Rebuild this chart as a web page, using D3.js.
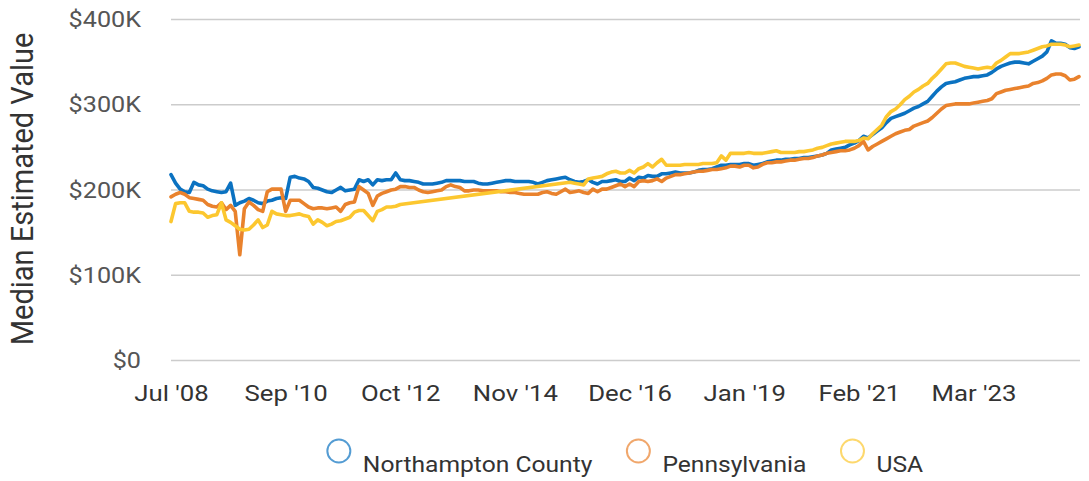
<!DOCTYPE html>
<html><head><meta charset="utf-8">
<script src="https://cdn.jsdelivr.net/npm/d3@7"></script>
<style>
body{margin:0;background:#fff}
svg{display:block}
text{font-family:Roboto,"Noto Sans",sans-serif}
</style>
</head><body>
<svg id="chart" width="1089" height="481"></svg>
<script>
// ---- data ----
const startMonth = "2008-07";
const endMonth = "2025-02";
const skippedMonth = "2010-01";
const tickLabels = ["Jul '08","Sep '10","Oct '12","Nov '14","Dec '16","Jan '19","Feb '21","Mar '23"];
const yTicks = [0, 100, 200, 300, 400]; // thousands of dollars
const seriesNames = ["Northampton County", "Pennsylvania", "USA"];
const seriesColors = ["#0b72c1", "#e9822d", "#fcc72f"];

// values in thousands of dollars
const northampton = [
218,208,201,198,197,209,206,205,201,199,
198,197,198,208,182,185,187,190,188,185,
184,187,188,190,191,190,215,216,214,213,
210,203,202,200,198,197,200,203,199,200,
201,212,210,212,206,212,211,212,212,220,
212,211,211,210,209,207,207,207,208,209,
211,211,211,211,210,210,210,208,207,207,
208,209,210,211,211,210,210,210,210,209,
207,209,211,212,213,214,215,212,210,209,
210,212,209,207,210,210,211,212,210,210,
214,211,215,214,217,216,216,219,219,220,
221,220,220,220,221,223,224,224,225,227,
229,229,230,230,230,231,231,229,230,231,
233,234,235,235,236,236,237,237,238,238,
239,240,241,243,247,248,249,250,253,255,
258,263,261,265,269,273,279,284,286,288,
290,293,296,298,301,304,310,316,321,325,
326,327,329,331,332,333,333,334,335,338,
342,345,347,349,350,350,349,348,351,354,
357,362,375,372,372,371,367,366,368
];
const pennsylvania = [
192,195,197,195,191,190,189,188,183,181,
180,185,177,182,175,124,178,186,182,177,
175,198,201,201,201,175,188,188,188,184,
180,178,179,179,178,179,180,175,183,185,
186,204,200,196,182,193,196,198,200,201,
204,204,203,203,200,198,197,198,199,200,
204,206,204,203,199,199,200,200,199,199,
199,199,198,198,197,197,196,195,195,195,
195,197,198,196,195,198,201,197,198,199,
197,196,201,198,201,201,203,205,207,204,
207,204,210,211,210,211,213,210,214,216,
218,218,219,220,221,222,222,223,224,224,
225,226,228,228,227,229,229,226,227,230,
232,232,233,233,234,235,235,236,237,237,
238,240,241,243,244,245,246,246,247,249,
252,257,247,251,254,257,260,263,266,268,
270,271,275,277,279,281,285,290,295,299,
300,301,301,301,301,302,303,304,305,307,
313,315,317,318,319,320,321,322,325,326,
328,331,335,336,336,334,329,330,333
];
const usa = [
163,184,185,185,175,174,174,173,168,170,
171,185,165,162,158,154,153,154,159,165,
156,159,175,172,171,170,170,171,172,170,
169,160,165,162,158,160,163,164,166,168,
174,176,176,170,164,175,177,180,180,181,
183,null,null,null,null,null,null,null,null,null,
null,null,null,null,null,null,null,null,null,null,
null,null,null,null,null,null,null,null,null,null,
null,null,null,null,null,null,null,209,208,207,
206,213,214,215,216,219,221,222,220,220,
223,220,225,227,231,227,232,236,229,229,
229,229,230,230,230,230,231,231,231,232,
240,235,243,243,243,243,244,243,243,243,
244,245,246,244,244,244,244,245,245,246,
247,249,250,252,254,255,256,257,257,257,
258,261,260,266,271,276,286,292,295,300,
306,310,315,318,322,325,331,336,342,348,
349,349,347,345,344,343,342,343,344,343,
349,352,356,360,360,360,361,362,364,366,
368,369,371,371,371,370,368,369,370
];

// ---- build ----
const parseM = d3.timeParse("%Y-%m");
const keyM = d3.timeFormat("%Y-%m");
const labelM = d3.timeFormat("%b '%y");
const categories = d3.timeMonth
  .range(parseM(startMonth), d3.timeMonth.offset(parseM(endMonth), 1))
  .filter(d => keyM(d) !== skippedMonth)
  .map(labelM);

const seriesValues = [northampton, pennsylvania, usa];
const stretch = 1.12; // reference text is slightly wide

const svg = d3.select("#chart");
const plotLeft = 171, plotRight = 1079, plotTop = 19.5, plotBottom = 360.5;

const x = d3.scalePoint().domain(categories).range([plotLeft, plotRight]);
const y = d3.scaleLinear().domain([0, 400]).range([plotBottom, plotTop]);

// grid
const grid = svg.append("g");
grid.selectAll("line").data(yTicks).join("line")
  .attr("x1", plotLeft).attr("x2", plotRight + 1)
  .attr("y1", d => y(d)).attr("y2", d => y(d))
  .attr("stroke", "#cccccc").attr("stroke-width", 1.5);

// y axis labels
const yAxis = d3.axisLeft(y).tickValues(yTicks).tickSize(0).tickPadding(0)
  .tickFormat(d => d === 0 ? "$0" : "$" + d + "K");
const gy = svg.append("g").attr("transform", `translate(${plotLeft - 30},0)`).call(yAxis);
gy.select(".domain").remove();
gy.selectAll("text").attr("font-size", 22.5).attr("fill", "#555").attr("font-family", "Roboto")
  .attr("transform", `scale(${stretch},1)`);

// x axis labels
const xAxis = d3.axisBottom(x).tickValues(tickLabels).tickSize(0).tickPadding(0);
const gx = svg.append("g").attr("transform", `translate(0,${plotBottom + 24})`).call(xAxis);
gx.select(".domain").remove();
gx.selectAll("text").attr("font-size", 23).attr("fill", "#333").attr("font-family", "Roboto")
  .attr("transform", `scale(${stretch},1)`);

// y title
svg.append("text")
  .attr("transform", `translate(33,${(plotTop + plotBottom) / 2 - 1}) scale(1.06,1) rotate(-90)`)
  .attr("text-anchor", "middle")
  .attr("font-size", 29).attr("fill", "#333")
  .text("Median Estimated Value");

// lines
const line = d3.line()
  .x(d => x(d.c)).y(d => y(d.v));
seriesValues.forEach((vals, si) => {
  const pts = vals.map((v, i) => ({c: categories[i], v})).filter(d => d.v !== null);
  svg.append("path").datum(pts)
    .attr("d", line)
    .attr("fill", "none")
    .attr("stroke", seriesColors[si])
    .attr("stroke-width", 3.6)
    .attr("stroke-linejoin", "round")
    .attr("stroke-linecap", "round");
});

// legend
const legend = svg.append("g");
const items = legend.selectAll("g").data(seriesNames).join("g");
items.append("circle").attr("r", 11.5).attr("cx", 12).attr("cy", 0)
  .attr("fill", "#fff").attr("stroke", (d, i) => seriesColors[i])
  .attr("stroke-opacity", 0.7).attr("stroke-width", 2);
items.append("text").attr("transform", `translate(36,21) scale(${stretch},1)`)
  .attr("font-size", 22).attr("fill", "#333").text(d => d);
let cursor = 0;
items.each(function() {
  const g = d3.select(this);
  g.attr("transform", `translate(${cursor},0)`);
  const w = 36 + g.select("text").node().getComputedTextLength() * stretch;
  cursor += w + 34;
});
const totalW = cursor - 34;
legend.attr("transform", `translate(${(plotLeft + plotRight) / 2 - totalW / 2},451)`);
</script>
</body></html>
